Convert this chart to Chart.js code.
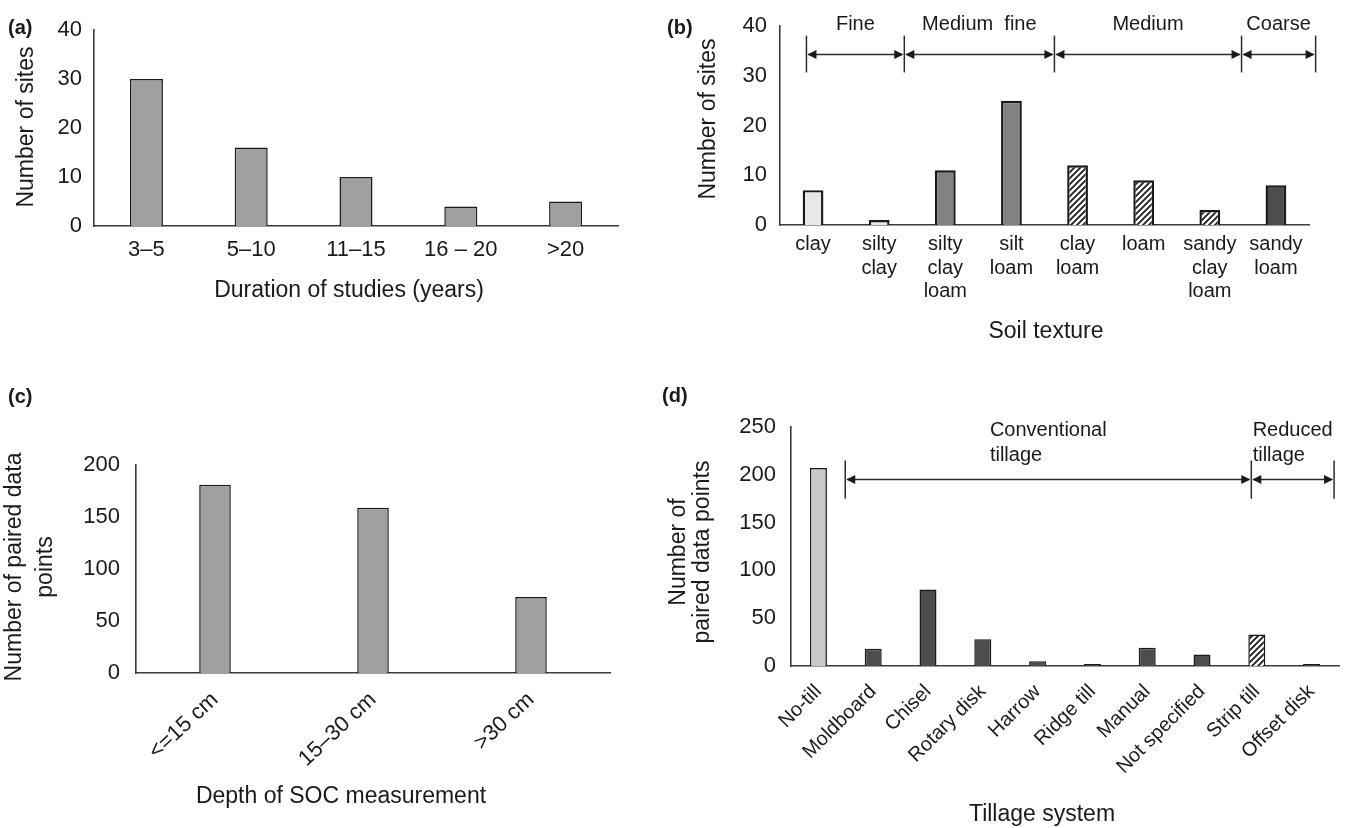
<!DOCTYPE html>
<html>
<head>
<meta charset="utf-8">
<title>Study sites, soil texture, SOC depth and tillage</title>
<script src="https://cdn.jsdelivr.net/npm/chart.js@4.4.1/dist/chart.umd.min.js"></script>
<style>
  html, body { margin: 0; padding: 0; background: #fff; }
  #page { position: relative; width: 1356px; height: 828px; overflow: hidden; }
  #page canvas { position: absolute; }
</style>
</head>
<body>
<div id="page">
  <canvas id="panelA"></canvas>
  <canvas id="panelB"></canvas>
  <canvas id="panelC"></canvas>
  <canvas id="panelD"></canvas>
</div>
<script>
// (a) duration of studies
var durationLabels = ['3–5', '5–10', '11–15', '16 – 20', '>20'];
var durationSites = [30, 16, 10, 4, 5];

// (b) soil texture
var textureLabels = [['clay'], ['silty', 'clay'], ['silty', 'clay', 'loam'], ['silt', 'loam'],
                     ['clay', 'loam'], ['loam'], ['sandy', 'clay', 'loam'], ['sandy', 'loam']];
var textureSites = [7, 1, 11, 25, 12, 9, 3, 8];
var textureClass = ['fine', 'fine', 'mediumFine', 'mediumFine', 'medium', 'medium', 'medium', 'coarse'];
var textureGroups = [['Fine'], ['Medium  fine'], ['Medium'], ['Coarse']];
var textureGroupEdges = [-0.1, 1.38, 3.65, 6.48, 7.6];   // in category units

// (c) depth of SOC measurement
var depthLabels = ['<=15 cm', '15–30 cm', '>30 cm'];
var depthPoints = [181, 159, 73];

// (d) tillage system
var tillageLabels = ['No-till', 'Moldboard', 'Chisel', 'Rotary disk', 'Harrow', 'Ridge till',
                     'Manual', 'Not specified', 'Strip till', 'Offset disk'];
var tillagePoints = [207, 18, 80, 28, 5, 2, 19, 12, 33, 2];
var tillageClass = ['none', 'conventional', 'conventional', 'conventional', 'conventional',
                    'conventional', 'conventional', 'conventional', 'strip', 'conventional'];
var tillageGroups = [['Conventional', 'tillage'], ['Reduced', 'tillage']];
var tillageGroupEdges = [0.49, 7.9, 9.41];

var FONT = '"Liberation Sans", Arial, Helvetica, sans-serif';
var INK = '#1a1a1a';
var AXIS = '#3a3a3a';
var EDGE = '#1a1a1a';

Chart.defaults.font.family = FONT;
Chart.defaults.color = INK;

function hatch() {
    var c = document.createElement('canvas');
    c.width = 6; c.height = 6;
    var g = c.getContext('2d');
    g.fillStyle = '#ffffff';
    g.fillRect(0, 0, 6, 6);
    g.strokeStyle = '#202020';
    g.lineWidth = 1.9;
    g.beginPath();
    g.moveTo(0, 6); g.lineTo(6, 0);
    g.moveTo(-3, 3); g.lineTo(3, -3);
    g.moveTo(3, 9); g.lineTo(9, 3);
    g.stroke();
    return g.createPattern(c, 'repeat');
}
var HATCH = hatch();

var textureFill = { fine: '#e8e8e8', mediumFine: '#828282', medium: HATCH, coarse: '#4d4d4d' };
var tillageFill = { none: '#c8c8c8', conventional: '#4d4d4d', strip: HATCH };

function arrow(ctx, xa, xb, y) {
    var h = 9, w = 4.5;
    ctx.beginPath();
    ctx.moveTo(xa + 2, y); ctx.lineTo(xb - 2, y);
    ctx.stroke();
    ctx.beginPath();
    ctx.moveTo(xa + 1, y); ctx.lineTo(xa + 1 + h, y - w); ctx.lineTo(xa + 1 + h, y + w); ctx.closePath();
    ctx.moveTo(xb - 1, y); ctx.lineTo(xb - 1 - h, y - w); ctx.lineTo(xb - 1 - h, y + w); ctx.closePath();
    ctx.fill();
}

// panel tag, axis titles and class brackets
var annotate = {
    id: 'annotate',
    afterDraw: function(chart, args, o) {
        var ctx = chart.ctx, ox = o.origin[0], oy = o.origin[1];
        ctx.save();
        ctx.fillStyle = INK;
        ctx.strokeStyle = '#2a2a2a';
        ctx.textBaseline = 'middle';

        ctx.font = 'bold 20px ' + FONT;
        ctx.textAlign = 'left';
        ctx.fillText(o.tag[0], o.tag[1] - ox, o.tag[2] - oy);

        ctx.font = '23px ' + FONT;
        ctx.textAlign = 'center';
        ctx.fillText(o.xTitle[0], o.xTitle[1] - ox, o.xTitle[2] - oy);

        o.yTitle.lines.forEach(function(t, i) {
            ctx.save();
            ctx.translate(o.yTitle.x[i] - ox, o.yTitle.y - oy);
            ctx.rotate(-Math.PI / 2);
            ctx.fillText(t, 0, 0);
            ctx.restore();
        });

        var b = o.brackets;
        if (b) {
            var xs = chart.scales.x, ys = chart.scales.y;
            var px = function(v) { return xs.getPixelForValue(v); };
            ctx.lineWidth = 1.5;
            b.edges.forEach(function(e) {
                ctx.beginPath();
                ctx.moveTo(px(e), ys.getPixelForValue(b.top));
                ctx.lineTo(px(e), ys.getPixelForValue(b.bottom));
                ctx.stroke();
            });
            var ya = ys.getPixelForValue(b.arrow);
            ctx.font = b.size + 'px ' + FONT;
            b.groups.forEach(function(lines, i) {
                var xa = px(b.edges[i]), xb = px(b.edges[i + 1]);
                arrow(ctx, xa, xb, ya);
                var wmax = Math.max.apply(null, lines.map(function(t) { return ctx.measureText(t).width; }));
                var left = (xa + xb) / 2 - wmax / 2;
                ctx.textAlign = lines.length > 1 ? 'left' : 'center';
                lines.forEach(function(t, k) {
                    var y = ys.getPixelForValue(b.label) + k * b.lineGap;
                    ctx.fillText(t, lines.length > 1 ? left : (xa + xb) / 2, y);
                });
            });
        }
        ctx.restore();
    }
};

function barPanel(id, labels, values, fills, cfg) {
    var el = document.getElementById(id);
    var L = cfg.box[0], T = cfg.box[1], W = cfg.box[2], H = cfg.box[3];
    var a = cfg.area;
    el.width = W; el.height = H;
    el.style.left = L + 'px'; el.style.top = T + 'px';
    el.style.width = W + 'px'; el.style.height = H + 'px';
    cfg.notes.origin = [L, T];
    return new Chart(el.getContext('2d'), {
        type: 'bar',
        data: {
            labels: labels,
            datasets: [{
                data: values,
                backgroundColor: fills,
                borderColor: EDGE,
                borderWidth: cfg.edge,
                barPercentage: cfg.bar,
                categoryPercentage: 1
            }]
        },
        options: {
            responsive: false,
            animation: false,
            events: [],
            layout: { padding: { top: a[2] - T, right: L + W - a[1], left: 0, bottom: 0 } },
            plugins: {
                legend: { display: false },
                tooltip: { enabled: false },
                annotate: cfg.notes
            },
            scales: {
                x: {
                    grid: { display: false, drawTicks: false },
                    border: { color: AXIS, width: 1.6 },
                    ticks: {
                        autoSkip: false,
                        color: INK,
                        padding: cfg.xPad,
                        minRotation: cfg.rot,
                        maxRotation: cfg.rot,
                        font: { size: cfg.xSize, lineHeight: cfg.xLine || 1.2 }
                    },
                    afterFit: function(s) { s.height = T + H - a[3]; }
                },
                y: {
                    min: 0,
                    max: cfg.max,
                    grid: { display: false, drawTicks: false },
                    border: { color: AXIS, width: 1.6 },
                    ticks: { stepSize: cfg.step, padding: cfg.yPad, color: INK, font: { size: 22 } },
                    afterFit: function(s) { s.width = a[0] - L; }
                }
            }
        },
        plugins: [annotate]
    });
}

barPanel('panelA', durationLabels, durationSites, '#a0a0a0', {
    box: [0, 0, 660, 320], area: [94, 618, 30, 226],
    max: 40, step: 10, bar: 0.315, edge: 1.5, rot: 0, xSize: 22, xPad: 11, yPad: 12,
    notes: {
        tag: ['(a)', 8, 28],
        xTitle: ['Duration of studies (years)', 349, 291],
        yTitle: { lines: ['Number of sites'], x: [27], y: 127 }
    }
});

barPanel('panelB', textureLabels, textureSites,
    textureClass.map(function(c) { return textureFill[c]; }), {
    box: [660, 0, 696, 350], area: [780, 1309, 19, 225],
    max: 40, step: 10, bar: 0.314, edge: 2.4, rot: 0, xSize: 20, xLine: 1.17, xPad: 8, yPad: 13,
    notes: {
        tag: ['(b)', 667, 28],
        xTitle: ['Soil texture', 1046, 332],
        yTitle: { lines: ['Number of sites'], x: [709], y: 119 },
        brackets: { edges: textureGroupEdges, groups: textureGroups, top: 38.1, bottom: 30.7,
                    arrow: 34.3, label: 40.4, lineGap: 25, size: 20 }
    }
});

barPanel('panelC', depthLabels, depthPoints, '#a0a0a0', {
    box: [0, 370, 660, 458], area: [136, 610, 465, 673],
    max: 200, step: 50, bar: 0.2, edge: 1.5, rot: 43, xSize: 22, xPad: 14, yPad: 16,
    notes: {
        tag: ['(c)', 8, 397],
        xTitle: ['Depth of SOC measurement', 341, 797],
        yTitle: { lines: ['Number of paired data', 'points'], x: [15, 46], y: 567 }
    }
});

barPanel('panelD', tillageLabels, tillagePoints,
    tillageClass.map(function(c) { return tillageFill[c]; }), {
    box: [660, 370, 696, 458], area: [791, 1339, 427, 666],
    max: 250, step: 50, bar: 0.31, edge: 1.5, rot: 45, xSize: 20, xPad: 14, yPad: 15,
    notes: {
        tag: ['(d)', 662, 396],
        xTitle: ['Tillage system', 1042, 815],
        yTitle: { lines: ['Number of', 'paired data points'], x: [679, 703], y: 552 },
        brackets: { edges: tillageGroupEdges, groups: tillageGroups, top: 215, bottom: 175,
                    arrow: 195, label: 246, lineGap: 25, size: 20 }
    }
});
</script>
</body>
</html>
